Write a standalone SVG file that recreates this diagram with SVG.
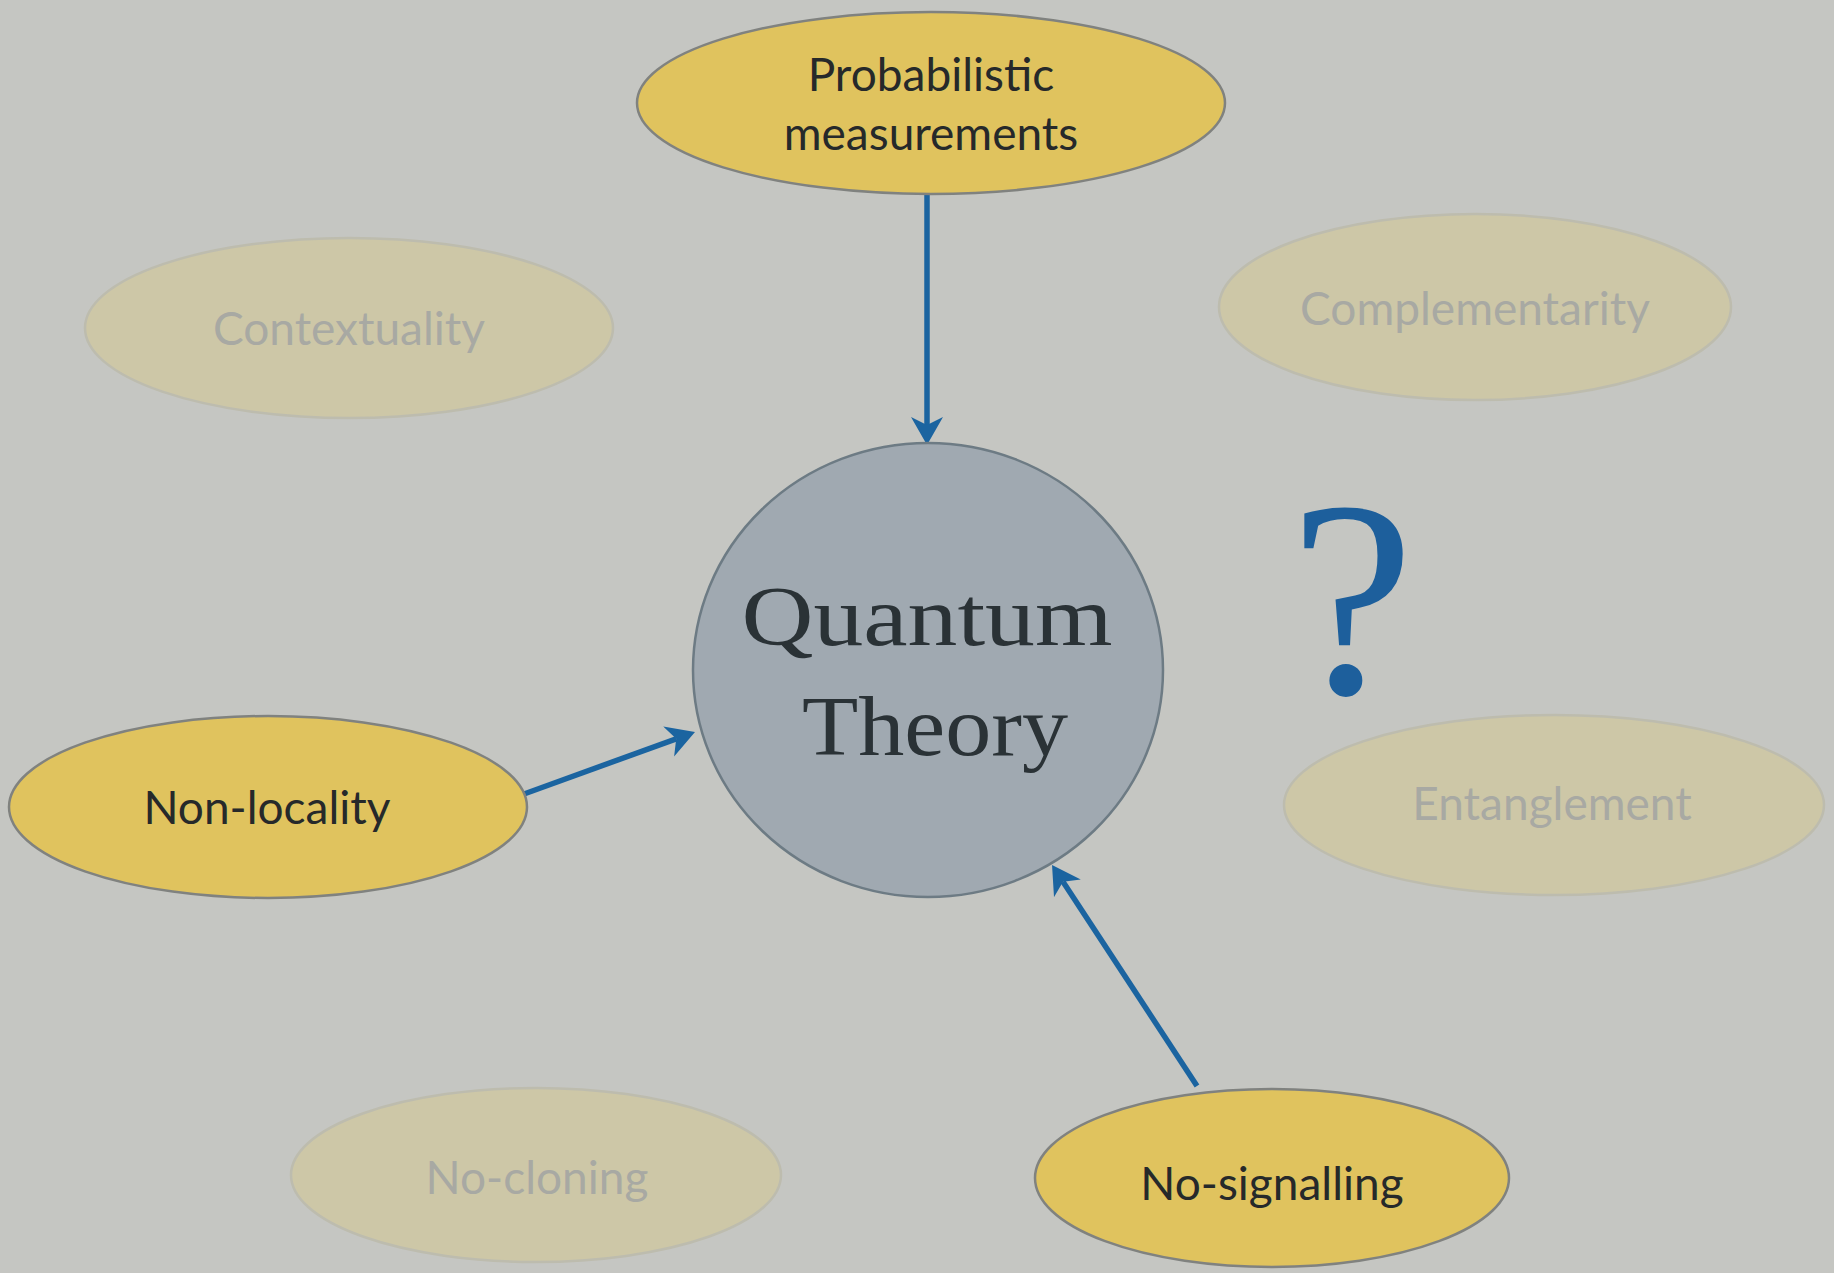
<svg xmlns="http://www.w3.org/2000/svg" width="1834" height="1273" viewBox="0 0 1834 1273">
  <style>
    .active { fill: #e0c35e; stroke: #80827f; stroke-width: 2.5; }
    .faded { fill: #cdc7a7; stroke: #bdbcae; stroke-width: 2.5; }
    .lbl { font-family: Lato, "Open Sans", "DejaVu Sans", sans-serif; font-size: 46px; text-anchor: middle; }
    .lbl-active { fill: #26292a; }
    .lbl-faded { fill: #a8a9a3; }
    .conn { stroke: #1b64a0; stroke-width: 5.5; fill: none; marker-end: url(#arrow); }
    .core { fill: #a0a9b1; stroke: #6d7b84; stroke-width: 2.5; }
    .serif { font-family: "Liberation Serif", "DejaVu Serif", serif; fill: #2a3236; text-anchor: middle; }
  </style>
  <defs>
    <marker id="arrow" markerUnits="userSpaceOnUse" markerWidth="30" markerHeight="34" viewBox="0 0 30 34" refX="8" refY="17" orient="auto">
      <path d="M0,1 L28,17 L0,33 L8,17 Z" fill="#1b64a0"/>
    </marker>
  </defs>
  <rect x="0" y="0" width="1834" height="1273" fill="#c5c6c2"/>

  <g id="node-contextuality">
    <ellipse class="faded" cx="349" cy="328" rx="264" ry="90"/>
    <text class="lbl lbl-faded" x="349" y="345">Contextuality</text>
  </g>
  <g id="node-complementarity">
    <ellipse class="faded" cx="1475" cy="307" rx="256" ry="93"/>
    <text class="lbl lbl-faded" x="1475" y="325">Complementarity</text>
  </g>
  <g id="node-entanglement">
    <ellipse class="faded" cx="1554" cy="805" rx="270" ry="90"/>
    <text class="lbl lbl-faded" x="1552" y="820">Entanglement</text>
  </g>
  <g id="node-nocloning">
    <ellipse class="faded" cx="536" cy="1175" rx="245" ry="87"/>
    <text class="lbl lbl-faded" x="537" y="1194">No-cloning</text>
  </g>

  <g id="connectors">
    <line class="conn" x1="927" y1="195" x2="927" y2="425"/>
    <line class="conn" x1="524" y1="794" x2="676.2" y2="738.8"/>
    <line class="conn" x1="1197" y1="1086" x2="1063" y2="881.7"/>
  </g>

  <g id="node-probabilistic">
    <ellipse class="active" cx="931" cy="103" rx="294" ry="91"/>
    <text class="lbl lbl-active" x="931" y="91">Probabilistic</text>
    <text class="lbl lbl-active" x="931" y="150">measurements</text>
  </g>
  <g id="node-nonlocality">
    <ellipse class="active" cx="268" cy="807" rx="259" ry="91"/>
    <text class="lbl lbl-active" x="267" y="824">Non-locality</text>
  </g>
  <g id="node-nosignalling">
    <ellipse class="active" cx="1272" cy="1178" rx="237" ry="89"/>
    <text class="lbl lbl-active" x="1272" y="1200">No-signalling</text>
  </g>

  <g id="node-quantum-theory">
    <ellipse class="core" cx="928" cy="670" rx="235" ry="227"/>
    <text class="serif" x="927" y="645" font-size="84" textLength="371" lengthAdjust="spacingAndGlyphs">Quantum</text>
    <text class="serif" x="935" y="755" font-size="84" textLength="266" lengthAdjust="spacingAndGlyphs">Theory</text>
  </g>

  <g id="question-mark">
    <text x="1352" y="693" font-family="Liberation Serif, DejaVu Serif, serif" font-size="280" fill="#1d5f9c" text-anchor="middle">?</text>
  </g>
</svg>
